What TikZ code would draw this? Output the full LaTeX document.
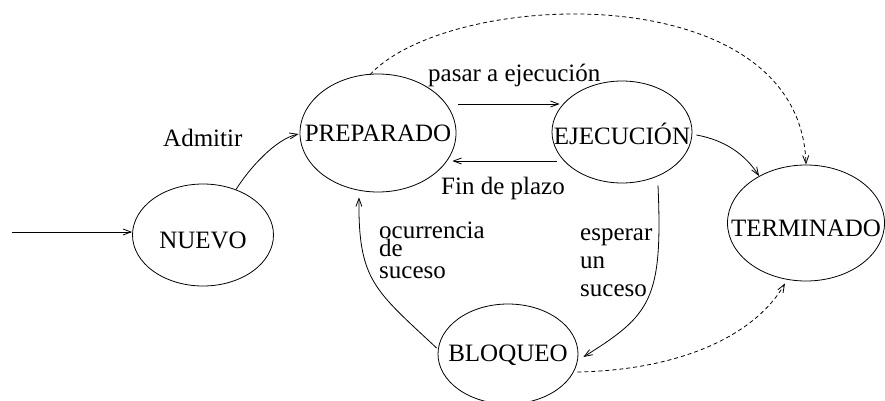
\documentclass[tikz,border=0pt]{standalone}
\usepackage{fontspec}
\setmainfont{Liberation Serif}
\usetikzlibrary{arrows.meta,shapes.geometric}
\begin{document}
\begin{tikzpicture}[x=1pt,y=-1pt,
  every node/.style={font=\fontsize{25}{28}\selectfont},
  state/.style={draw,ellipse,inner sep=0pt,line width=0.8pt},
  lbl/.style={inner sep=0pt,anchor=base west},
  arr/.style={line width=0.8pt,-{Straight Barb[length=8pt,width=6pt]}},
  dsh/.style={arr,dash pattern=on 4pt off 3pt}]
\useasboundingbox (0,0) rectangle (885,401);
% states
\node[state,minimum width=141pt,minimum height=102pt] (nuevo) at (203,235) {};
\node[inner sep=0pt] (nuevot) at ([yshift=-5pt]nuevo.center) {NUEVO};
\node[state,minimum width=156pt,minimum height=118pt] (prep) at (378,133) {};
\node[inner sep=0pt] (prept) at (prep.center) {PREPARADO};
\node[state,minimum width=140pt,minimum height=102pt] (ejec) at (622,132) {};
\node[inner sep=0pt] (eject) at ([yshift=-2pt]ejec.center) {EJECUCIÓN};
\node[state,minimum width=157pt,minimum height=116pt] (term) at (806,223) {};
\node[inner sep=0pt] (termt) at ([yshift=-5pt]term.center) {TERMINADO};
\node[state,minimum width=140pt,minimum height=100pt] (bloq) at (508,354) {};
\node[inner sep=0pt] (bloqt) at ([yshift=-1pt]bloq.center) {BLOQUEO};
% labels
\node[lbl] (ladm) at (163,146) {Admitir};
\node[lbl] (lpas) at (428,82) {pasar a ejecución};
\node[lbl] (lfin) at (441,194) {Fin de plazo};
\node[lbl,align=left,font=\fontsize{25}{22}\selectfont] (locu) at (379,278) {ocurrencia\\[-4pt]de\\suceso};
\node[lbl,align=left,font=\fontsize{25}{28}\selectfont] (lesp) at (580,296) {esperar\\un\\suceso};
% connectors
\coordinate (start) at (12,232);
\draw[arr] (start) -- (start -| nuevo.west);
\draw[arr] (nuevo.54) .. controls +(13,-21) and +(-23,5) .. ([shift={(-1,1)}]prep.west);
\draw[arr] ([shift={(2,-29)}]prep.east) -- ([shift={(8,-28)}]ejec.west);
\draw[arr] ([shift={(5,29)}]ejec.west) -- ([shift={(-4,28)}]prep.east);
\draw[dsh] ([shift={(-8,1)}]prep.north) .. controls +(80,-86) and +(-6,-190) .. (term.north);
\draw[arr] ([shift={(4,3)}]ejec.east) .. controls +(28,5) and +(-14,-22) .. (term.135);
\draw[arr] ([shift={(36,2)}]ejec.south) .. controls +(5,115) and +(67,-42) .. ([shift={(5,3)}]bloq.east);
\draw[arr] ([shift={(-1,-6)}]bloq.west) .. controls +(-62,-58) and +(-1,83) .. ([shift={(-19,5)}]prep.south);
\draw[dsh] ([shift={(-1,18)}]bloq.east) .. controls +(103,-2) and +(-30,52) .. ([shift={(-21,2)}]term.south);
\end{tikzpicture}
\end{document}
